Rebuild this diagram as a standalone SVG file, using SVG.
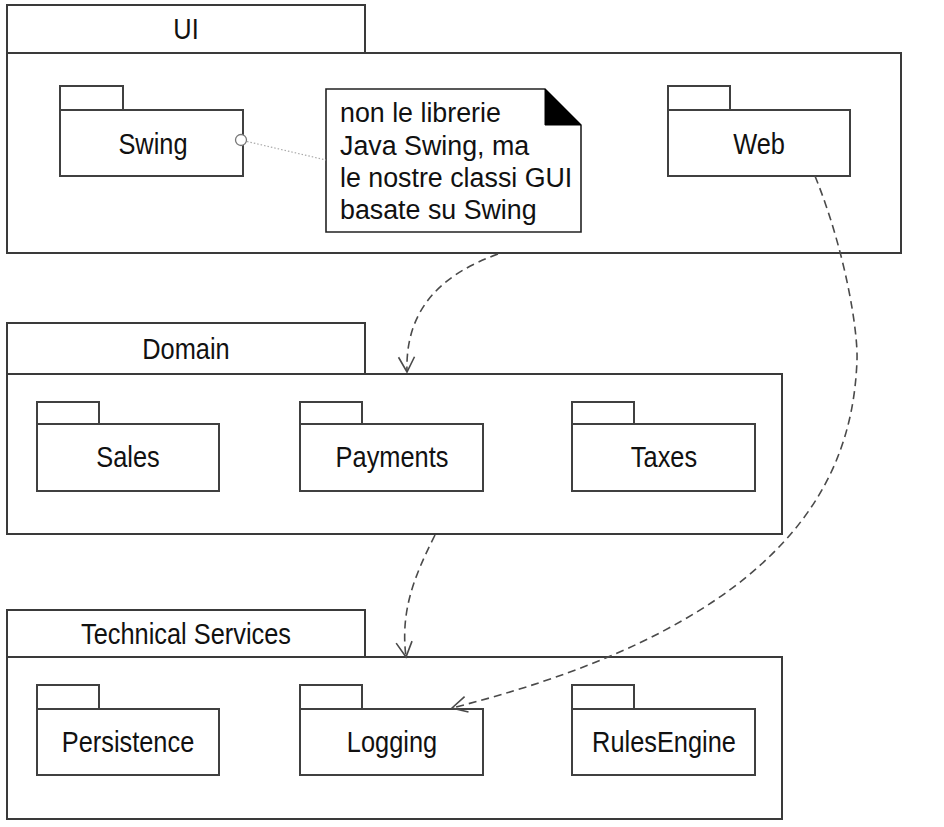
<svg xmlns="http://www.w3.org/2000/svg" width="944" height="827" viewBox="0 0 944 827">
<defs>
<style>
.pk{fill:#fff;stroke:#3a3a3a;stroke-width:2}
.sp{fill:#fff;stroke:#404040;stroke-width:2}
.lbl{font-family:"Liberation Sans",Arial,sans-serif;font-size:29px;fill:#111;text-anchor:middle}
.nt{font-family:"Liberation Sans",Arial,sans-serif;font-size:26.8px;fill:#111}
.dep{fill:none;stroke:#4a4a4a;stroke-width:1.6;stroke-dasharray:8 5}
.anchor{fill:none;stroke:#aaa;stroke-width:1.2;stroke-dasharray:1.5 2}
</style>
<marker id="open" markerUnits="userSpaceOnUse" markerWidth="24" markerHeight="24" viewBox="-20 -12 24 24" refX="0" refY="0" orient="auto">
<path d="M-15,-8 L0,0 L-15,8" fill="none" stroke="#4a4a4a" stroke-width="1.6"/>
</marker>
</defs>
<rect width="944" height="827" fill="#fff"/>

<g id="pkg-ui">
<rect class="pk" x="7" y="5" width="358" height="48"/>
<rect class="pk" x="7" y="53" width="894" height="200"/>
<text class="lbl" transform="translate(186,39) scale(0.875,1)">UI</text>
</g>
<g id="pkg-swing">
<rect class="sp" x="60" y="86" width="63" height="24"/>
<rect class="sp" x="60" y="110" width="183" height="66"/>
<text class="lbl" transform="translate(153,154) scale(0.875,1)">Swing</text>
<circle cx="241" cy="140" r="5.5" fill="#fff" stroke="#777" stroke-width="1.3"/>
</g>
<g id="pkg-web">
<rect class="sp" x="668" y="86" width="62" height="24"/>
<rect class="sp" x="668" y="110" width="182" height="66"/>
<text class="lbl" transform="translate(759,154) scale(0.875,1)">Web</text>
</g>
<g id="note">
<polygon points="326,89 545,89 581,125 581,232 326,232" fill="#fff" stroke="#222" stroke-width="1.6"/>
<polygon points="545,89 545,125 581,125" fill="#000" stroke="#000" stroke-width="1"/>
<text class="nt" x="340" y="122">non le librerie</text>
<text class="nt" x="340" y="154.5">Java Swing, ma</text>
<text class="nt" x="340" y="187">le nostre classi GUI</text>
<text class="nt" x="340" y="219">basate su Swing</text>
</g>

<g id="pkg-domain">
<rect class="pk" x="7" y="323" width="358" height="51"/>
<rect class="pk" x="7" y="374" width="775" height="160"/>
<text class="lbl" transform="translate(186,359) scale(0.875,1)">Domain</text>
</g>
<g id="pkg-sales">
<rect class="sp" x="37" y="402" width="62" height="22"/>
<rect class="sp" x="37" y="424" width="182" height="67"/>
<text class="lbl" transform="translate(128,467) scale(0.875,1)">Sales</text>
</g>
<g id="pkg-payments">
<rect class="sp" x="300" y="402" width="62" height="22"/>
<rect class="sp" x="300" y="424" width="183" height="67"/>
<text class="lbl" transform="translate(392,467) scale(0.875,1)">Payments</text>
</g>
<g id="pkg-taxes">
<rect class="sp" x="572" y="402" width="62" height="22"/>
<rect class="sp" x="572" y="424" width="183" height="67"/>
<text class="lbl" transform="translate(664,467) scale(0.875,1)">Taxes</text>
</g>

<g id="pkg-technical-services">
<rect class="pk" x="7" y="610" width="358" height="47"/>
<rect class="pk" x="7" y="657" width="775" height="162"/>
<text class="lbl" transform="translate(186,644) scale(0.875,1)">Technical Services</text>
</g>
<g id="pkg-persistence">
<rect class="sp" x="37" y="685" width="62" height="24"/>
<rect class="sp" x="37" y="709" width="182" height="66"/>
<text class="lbl" transform="translate(128,752) scale(0.875,1)">Persistence</text>
</g>
<g id="pkg-logging">
<rect class="sp" x="300" y="685" width="62" height="24"/>
<rect class="sp" x="300" y="709" width="183" height="66"/>
<text class="lbl" transform="translate(392,752) scale(0.875,1)">Logging</text>
</g>
<g id="pkg-rulesengine">
<rect class="sp" x="572" y="685" width="62" height="24"/>
<rect class="sp" x="572" y="709" width="183" height="66"/>
<text class="lbl" transform="translate(664,752) scale(0.875,1)">RulesEngine</text>
</g>

<g id="connectors">
<path class="anchor" d="M247,141.5 L326,160"/>
<path class="dep" d="M498,254 C440,275 405,310 407,372" marker-end="url(#open)"/>
<path class="dep" d="M435,535 C415,575 400,610 406,657" marker-end="url(#open)"/>
<path class="dep" d="M815,176 C845,250 858,330 857,360 C853,470 800,620 452,708" marker-end="url(#open)"/>
</g>
</svg>
